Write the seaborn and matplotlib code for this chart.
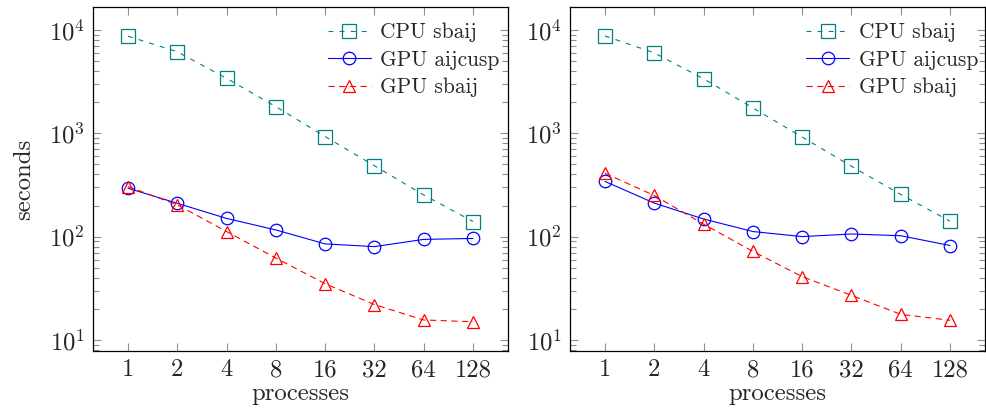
import numpy as np
import pandas as pd
import matplotlib
matplotlib.use("Agg")
import matplotlib.pyplot as plt
import matplotlib.ticker as mticker
import seaborn as sns

# Process counts on the x axis
processes = [1, 2, 4, 8, 16, 32, 64, 128]
tick_labels = ["1", "2", "4", "8", "16", "32", "64", "128"]

# Timings (seconds), left panel
left_cpu_sbaij = [8700, 6150, 3400, 1810, 930, 485, 253, 140]
left_gpu_aijcusp = [294, 210, 150, 116, 85, 80, 94, 96]
left_gpu_sbaij = [305, 203, 112, 62, 35, 22, 15.6, 15.0]

# Timings (seconds), right panel
right_cpu_sbaij = [8750, 6000, 3370, 1760, 920, 480, 256, 141]
right_gpu_aijcusp = [342, 211, 148, 112, 100, 106, 102, 82]
right_gpu_sbaij = [410, 250, 132, 72, 41, 27, 17.7, 15.5]

series_names = ["CPU sbaij", "GPU aijcusp", "GPU sbaij"]
series_colors = ["#008080", "#0000ff", "#ff0000"]
series_markers = ["s", "o", "^"]
series_msizes = [9.6, 9.0, 8.6]
series_styles = [(0, (3.5, 4.5)), "-", (0, (4.5, 3.2))]

sns.set_style("ticks")
plt.rcParams["font.family"] = ["cmr10"]
plt.rcParams["mathtext.fontset"] = "cm"
plt.rcParams["axes.formatter.use_mathtext"] = True
plt.rcParams["lines.scale_dashes"] = False
FS = 17.8      # tick and axis labels
LFS = 15.4     # legend entries

fig = plt.figure(figsize=(9.86, 4.13), dpi=100)
W, H = 986, 413
ax_l = fig.add_axes([93 / W, 1 - 351 / H, 415 / W, 344 / H])
ax_r = fig.add_axes([570 / W, 1 - 351 / H, 415 / W, 344 / H])


def draw(ax, panel, show_ylabel, leg_x):
    for name, vals, c, m, ms, ls in zip(series_names, panel, series_colors,
                                        series_markers, series_msizes, series_styles):
        df = pd.DataFrame({"processes": processes, "seconds": vals})
        sns.lineplot(data=df, x="processes", y="seconds", ax=ax, color=c,
                     marker=m, markersize=ms, mfc="none", mec=c, mew=0.9,
                     linewidth=0.8, linestyle=ls, label=name, errorbar=None)
    ax.set_xscale("log", base=2)
    ax.set_yscale("log")
    ax.set_xlim(2 ** -0.71, 2 ** 7.71)
    ax.set_ylim(10 ** 0.893, 10 ** 4.222)
    ax.xaxis.set_major_locator(mticker.FixedLocator(processes))
    ax.xaxis.set_major_formatter(mticker.FixedFormatter(tick_labels))
    ax.xaxis.set_minor_locator(mticker.NullLocator())
    ax.yaxis.set_major_locator(mticker.FixedLocator([10, 100, 1000, 10000]))
    ax.yaxis.set_major_formatter(mticker.FixedFormatter(
        [r"$10^{1}$", r"$10^{2}$", r"$10^{3}$", r"$10^{4}$"]))
    ax.yaxis.set_minor_locator(mticker.LogLocator(base=10, subs=np.arange(2, 10)))
    ax.yaxis.set_minor_formatter(mticker.NullFormatter())
    ax.tick_params(which="both", direction="in", top=True, right=True,
                   color="#909090", width=0.8, labelsize=FS, pad=6)
    ax.tick_params(which="major", length=6)
    ax.tick_params(which="minor", length=4)
    for sp in ax.spines.values():
        sp.set_visible(True)
        sp.set_linewidth(0.9)
        sp.set_color("black")
    ax.set_xlabel("processes", fontsize=FS, labelpad=1)
    if show_ylabel:
        ax.set_ylabel("seconds", fontsize=FS, labelpad=10)
    else:
        ax.set_ylabel("")
    ax.legend(loc="upper left", bbox_to_anchor=(leg_x, 0.955), frameon=False,
              fontsize=LFS, handlelength=2.0, handletextpad=0.45,
              labelspacing=0.38, borderaxespad=0, borderpad=0, numpoints=1)


draw(ax_l, [left_cpu_sbaij, left_gpu_aijcusp, left_gpu_sbaij], True, 0.566)
draw(ax_r, [right_cpu_sbaij, right_gpu_aijcusp, right_gpu_sbaij], False, 0.569)

fig.savefig("out.png", dpi=100)
